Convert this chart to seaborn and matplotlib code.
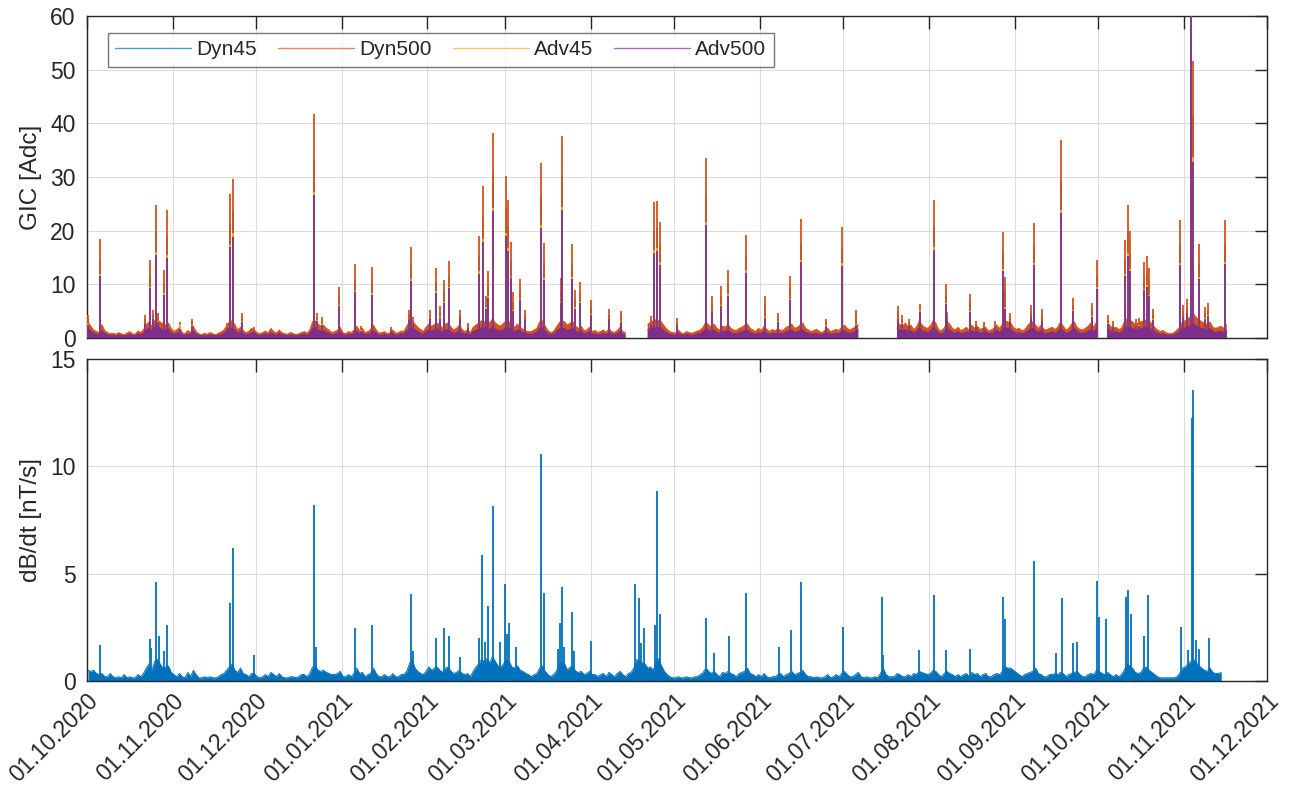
import numpy as np
import pandas as pd
import matplotlib
matplotlib.use("Agg")
import matplotlib.pyplot as plt
import matplotlib.dates as mdates
from matplotlib.lines import Line2D
import seaborn as sns

nan = np.nan
START = pd.Timestamp("2020-10-01")

# ---------------------------------------------------------------------------
# Daily background level of the GIC series (index = days since START),
# nan where the recording has gaps.
DYN500_BG = [
    3.0, 2.2, 1.5, 1.2, 1.0, 2.5, 1.4, 1.0, 0.8, 0.9,
    0.7, 1.0, 0.8, 0.6, 0.9, 1.2, 0.8, 0.7, 1.3, 1.0,
    1.5, 2.5, 3.0, 2.2, 3.2, 3.4, 3.0, 2.6, 2.4, 2.8,
    1.8, 1.2, 1.5, 2.0, 1.0, 0.8, 1.4, 1.0, 2.2, 1.2,
    0.8, 0.6, 0.9, 0.7, 1.0, 0.8, 0.6, 0.9, 1.1, 1.5,
    2.2, 3.0, 3.2, 2.5, 1.5, 2.0, 1.4, 1.0, 1.2, 1.8,
    1.5, 1.0, 0.8, 1.0, 1.3, 0.9, 1.8, 1.2, 0.9, 1.5,
    1.0, 0.8, 0.7, 1.0, 0.9, 0.6, 0.8, 1.0, 1.2, 0.9,
    1.4, 3.0, 3.2, 2.6, 2.2, 2.4, 1.8, 1.5, 1.0, 1.2,
    1.4, 2.0, 1.0, 0.8, 1.2, 1.0, 1.5, 2.2, 1.4, 1.8,
    1.0, 1.2, 1.6, 2.4, 1.5, 0.9, 1.0, 1.2, 0.8, 1.0,
    1.5, 0.9, 1.0, 1.3, 1.2, 2.2, 3.0, 3.2, 2.6, 2.0,
    1.6, 1.2, 2.0, 2.6, 2.2, 2.5, 2.8, 2.4, 1.8, 2.6,
    2.8, 2.0, 1.5, 1.8, 2.4, 1.6, 1.2, 1.5, 1.0, 2.0,
    2.4, 2.8, 3.2, 3.0, 3.4, 2.8, 3.6, 2.8, 2.4, 2.2,
    2.8, 3.2, 3.0, 2.4, 2.0, 2.6, 2.0, 1.6, 1.3, 1.2,
    1.2, 1.5, 1.8, 3.0, 3.2, 2.2, 1.4, 1.0, 1.2, 2.0,
    2.8, 3.2, 3.0, 2.4, 2.8, 3.0, 2.2, 1.8, 2.2, 1.4,
    1.5, 2.0, 1.2, 1.4, 1.0, 1.2, 1.5, 1.0, 1.8, 1.2,
    1.0, 1.4, 2.0, 1.2, 1.0, nan, nan, nan, nan, nan,
    nan, nan, 2.5, 3.0, 3.2, 3.4, 3.2, 3.0, 2.2, 1.6,
    1.2, 1.0, 0.9, 1.5, 1.0, 0.8, 1.2, 1.0, 0.9, 1.1,
    1.3, 1.5, 2.0, 3.0, 2.4, 2.0, 2.6, 1.8, 1.5, 2.2,
    2.0, 2.5, 1.8, 1.5, 1.4, 1.8, 2.0, 2.4, 2.6, 1.8,
    1.5, 1.2, 1.8, 1.4, 2.2, 1.6, 1.2, 1.6, 1.3, 1.8,
    1.4, 1.5, 2.0, 2.2, 2.6, 1.8, 2.0, 2.4, 2.8, 1.8,
    1.5, 1.2, 1.4, 1.6, 1.2, 1.0, 1.5, 1.8, 1.2, 1.4,
    1.6, 1.4, 2.0, 2.4, 1.8, 1.5, 1.8, 2.0, 2.5, nan,
    nan, nan, nan, nan, nan, nan, nan, nan, nan, nan,
    nan, nan, 3.0, 2.5, 2.2, 2.8, 2.0, 2.4, 1.6, 2.0,
    3.2, 2.4, 2.0, 1.8, 2.2, 3.2, 2.8, 1.5, 1.4, 1.8,
    3.0, 2.6, 1.8, 1.5, 2.0, 1.4, 1.6, 2.0, 1.5, 2.4,
    1.8, 2.2, 1.6, 1.8, 2.0, 1.3, 1.5, 1.8, 2.4, 1.8,
    2.5, 3.2, 3.0, 2.8, 2.0, 1.6, 1.8, 1.4, 1.5, 2.2,
    2.8, 3.0, 2.4, 1.8, 2.4, 1.6, 1.5, 1.8, 2.0, 1.6,
    2.0, 3.0, 2.2, 1.5, 1.8, 2.6, 3.0, 2.0, 1.6, 1.5,
    1.8, 2.2, 2.8, 2.0, 3.0, nan, nan, nan, 3.0, 2.2,
    1.8, 2.0, 1.6, 1.8, 3.0, 3.6, 3.4, 3.0, 2.5, 2.8,
    3.0, 3.2, 3.4, 3.2, 2.6, 2.0, 1.5, 1.2, 1.4, 1.0,
    0.9, 0.8, 1.0, 1.5, 2.0, 3.0, 3.2, 3.6, 4.0, 4.5,
    3.8, 3.4, 3.0, 2.8, 2.5, 3.0, 2.0, 1.8, 2.0, 2.2,
    1.8, 2.5,
]
ADV500_BG = [
    1.8, 1.3, 0.9, 0.7, 0.6, 1.4, 0.8, 0.6, 0.5, 0.5,
    0.4, 0.6, 0.5, 0.4, 0.5, 0.7, 0.5, 0.4, 0.8, 0.6,
    0.9, 1.5, 1.8, 1.3, 1.9, 2.1, 1.8, 1.5, 1.4, 1.7,
    1.0, 0.7, 0.9, 1.2, 0.6, 0.5, 0.8, 0.6, 1.3, 0.7,
    0.5, 0.4, 0.5, 0.4, 0.6, 0.5, 0.4, 0.5, 0.6, 0.9,
    1.3, 1.8, 1.9, 1.5, 0.9, 1.2, 0.8, 0.6, 0.7, 1.0,
    0.9, 0.6, 0.5, 0.6, 0.8, 0.5, 1.0, 0.7, 0.5, 0.9,
    0.6, 0.5, 0.4, 0.6, 0.5, 0.4, 0.5, 0.6, 0.7, 0.5,
    0.8, 1.8, 1.9, 1.5, 1.3, 1.4, 1.0, 0.9, 0.6, 0.7,
    0.8, 1.2, 0.6, 0.5, 0.7, 0.6, 0.9, 1.3, 0.8, 1.0,
    0.6, 0.7, 0.9, 1.4, 0.9, 0.5, 0.6, 0.7, 0.5, 0.6,
    0.9, 0.5, 0.6, 0.8, 0.7, 1.3, 1.8, 1.9, 1.5, 1.2,
    0.9, 0.7, 1.2, 1.5, 1.3, 1.5, 1.7, 1.4, 1.0, 1.5,
    1.6, 1.2, 0.9, 1.0, 1.4, 0.9, 0.7, 0.9, 0.6, 1.2,
    1.4, 1.6, 1.9, 1.8, 2.0, 1.6, 2.1, 1.6, 1.4, 1.3,
    1.6, 1.9, 1.8, 1.4, 1.2, 1.5, 1.2, 1.0, 0.8, 0.7,
    0.7, 0.9, 1.0, 1.8, 1.9, 1.3, 0.8, 0.6, 0.7, 1.2,
    1.7, 1.9, 1.8, 1.4, 1.6, 1.8, 1.3, 1.0, 1.3, 0.8,
    0.9, 1.2, 0.7, 0.8, 0.6, 0.7, 0.9, 0.6, 1.0, 0.7,
    0.6, 0.8, 1.2, 0.7, 0.6, nan, nan, nan, nan, nan,
    nan, nan, 1.5, 1.8, 1.9, 2.0, 1.9, 1.8, 1.3, 0.9,
    0.7, 0.6, 0.5, 0.9, 0.6, 0.5, 0.7, 0.6, 0.5, 0.6,
    0.8, 0.9, 1.2, 1.8, 1.4, 1.2, 1.5, 1.0, 0.9, 1.3,
    1.2, 1.5, 1.0, 0.9, 0.8, 1.0, 1.2, 1.4, 1.5, 1.0,
    0.9, 0.7, 1.0, 0.8, 1.3, 0.9, 0.7, 0.9, 0.8, 1.0,
    0.8, 0.9, 1.2, 1.3, 1.5, 1.0, 1.2, 1.4, 1.6, 1.0,
    0.9, 0.7, 0.8, 0.9, 0.7, 0.6, 0.9, 1.0, 0.7, 0.8,
    0.9, 0.8, 1.2, 1.4, 1.0, 0.9, 1.0, 1.2, 1.5, nan,
    nan, nan, nan, nan, nan, nan, nan, nan, nan, nan,
    nan, nan, 1.8, 1.5, 1.3, 1.6, 1.2, 1.4, 0.9, 1.2,
    1.9, 1.4, 1.2, 1.0, 1.3, 1.9, 1.6, 0.9, 0.8, 1.0,
    1.8, 1.5, 1.0, 0.9, 1.2, 0.8, 0.9, 1.2, 0.9, 1.4,
    1.0, 1.3, 0.9, 1.0, 1.2, 0.8, 0.9, 1.0, 1.4, 1.0,
    1.5, 1.9, 1.8, 1.6, 1.2, 0.9, 1.0, 0.8, 0.9, 1.3,
    1.6, 1.8, 1.4, 1.0, 1.4, 0.9, 0.9, 1.0, 1.2, 0.9,
    1.2, 1.8, 1.3, 0.9, 1.0, 1.5, 1.8, 1.2, 0.9, 0.9,
    1.0, 1.3, 1.6, 1.2, 1.8, nan, nan, nan, 1.8, 1.3,
    1.0, 1.2, 0.9, 1.0, 1.8, 2.1, 2.0, 1.8, 1.5, 1.6,
    1.8, 1.9, 2.0, 1.9, 1.5, 1.2, 0.9, 0.7, 0.8, 0.6,
    0.5, 0.5, 0.6, 0.9, 1.2, 1.8, 1.9, 2.1, 2.4, 2.7,
    2.2, 2.0, 1.8, 1.6, 1.5, 1.8, 1.2, 1.0, 1.2, 1.3,
    1.0, 1.5,
]
# weekly background of the 45 series (days 0, 7, 14, ...)
WEEK_STEP = 7
DYN45_BG = [
    0.35, 0.30, 0.30, 0.40, 0.35, 0.30, 0.30, 0.40, 0.35, 0.30,
    0.30, 0.30, 0.40, 0.35, 0.30, 0.35, 0.40, 0.45, 0.40, 0.45,
    0.50, 0.50, 0.35, 0.35, 0.45, 0.40, 0.30, 0.30, nan, 0.50,
    0.30, 0.35, 0.40, 0.40, 0.35, 0.35, 0.40, 0.35, 0.35, 0.40,
    nan, nan, 0.45, 0.45, 0.40, 0.40, 0.40, 0.45, 0.50, 0.45,
    0.45, 0.40, nan, 0.45, 0.50, 0.45, 0.30, 0.55, 0.45,
]
ADV45_BG = [
    0.30, 0.25, 0.25, 0.35, 0.30, 0.25, 0.25, 0.35, 0.30, 0.25,
    0.25, 0.25, 0.35, 0.30, 0.25, 0.30, 0.35, 0.40, 0.35, 0.40,
    0.45, 0.45, 0.30, 0.30, 0.40, 0.35, 0.25, 0.25, nan, 0.45,
    0.25, 0.30, 0.35, 0.35, 0.30, 0.30, 0.35, 0.30, 0.30, 0.35,
    nan, nan, 0.40, 0.40, 0.35, 0.35, 0.35, 0.40, 0.45, 0.40,
    0.40, 0.35, nan, 0.40, 0.45, 0.40, 0.25, 0.50, 0.40,
]

# GIC storm peaks: time in days since START and peak value of each series
GIC_PEAK_DAY = [
    0.3, 4.8, 21.0, 22.8, 23.8, 25.0, 25.8, 27.8, 28.9, 33.7,
    37.9, 50.7, 51.9, 52.8, 55.9, 60.4, 81.9, 83.0, 84.8, 91.0,
    97.0, 99.0, 102.9, 110.0, 116.4, 116.9, 117.8, 123.8, 125.9, 127.7,
    129.0, 130.8, 134.9, 137.7, 141.6, 142.9, 144.0, 144.9, 146.8, 151.2,
    151.9, 153.0, 153.9, 156.3, 158.1, 163.8, 164.9, 171.1, 171.7, 175.0,
    176.2, 178.0, 181.9, 188.4, 192.7, 203.8, 204.8, 206.0, 207.1, 213.1,
    223.4, 225.8, 229.1, 231.4, 237.8, 244.7, 249.7, 254.0, 257.9, 267.0,
    272.7, 277.8, 292.8, 294.4, 296.8, 300.6, 305.7, 310.0, 310.6, 318.9,
    321.1, 323.7, 328.0, 330.9, 331.6, 333.3, 340.9, 342.0, 344.9, 351.7,
    355.9, 362.8, 364.8, 368.6, 370.6, 374.8, 375.9, 376.7, 378.8, 380.0,
    381.8, 382.8, 383.6, 384.8, 394.8, 395.6, 397.0, 398.6, 399.3, 401.6,
    403.8, 404.9, 410.9,
]
DYN500_PEAK = [
    4.3, 18.4, 4.3, 14.6, 5.2, 24.8, 4.7, 12.7, 23.9, 2.9,
    3.6, 2.8, 26.8, 29.7, 4.7, 2.0, 41.8, 4.7, 3.9, 9.5,
    13.8, 2.2, 13.3, 2.0, 5.2, 16.9, 4.0, 5.2, 13.0, 6.0,
    10.8, 14.3, 5.2, 2.8, 19.0, 28.3, 7.8, 12.4, 38.2, 30.2,
    25.8, 17.9, 8.5, 11.0, 5.2, 32.7, 17.7, 11.2, 37.7, 17.5,
    9.0, 10.4, 7.1, 5.4, 5.0, 4.1, 25.3, 25.6, 21.6, 3.8,
    33.5, 7.9, 9.7, 12.6, 19.2, 7.9, 4.7, 11.6, 22.2, 3.6,
    20.6, 5.2, 6.0, 4.3, 3.5, 6.4, 25.7, 10.1, 4.9, 8.2,
    3.2, 2.9, 3.1, 19.8, 11.3, 4.6, 6.1, 21.4, 5.4, 36.9,
    7.5, 6.5, 14.6, 4.2, 3.2, 18.3, 24.8, 19.9, 3.5, 3.7,
    14.2, 15.2, 13.0, 5.5, 22.0, 6.2, 7.2, 98.0, 51.6, 17.5,
    5.8, 6.5, 22.0,
]
DYN45_PEAK = [
    3.5, 14.8, 3.5, 11.7, 4.2, 19.8, 3.8, 10.2, 19.1, 2.3,
    2.9, 2.2, 21.4, 23.8, 3.8, 1.6, 33.4, 3.8, 3.1, 7.6,
    11.0, 1.8, 10.6, 1.6, 4.2, 13.5, 3.2, 4.2, 10.4, 4.8,
    8.6, 11.4, 4.2, 2.2, 15.2, 22.6, 6.2, 9.9, 30.6, 24.2,
    20.6, 14.3, 6.8, 8.8, 4.2, 26.2, 14.2, 9.0, 30.2, 14.0,
    7.2, 8.3, 5.7, 4.3, 4.0, 3.3, 20.2, 20.5, 17.3, 3.0,
    26.8, 6.3, 7.8, 10.1, 15.4, 6.3, 3.8, 9.3, 17.8, 2.9,
    16.5, 4.2, 4.8, 3.4, 2.8, 5.1, 20.6, 8.1, 3.9, 6.6,
    2.6, 2.3, 2.5, 15.8, 9.0, 3.7, 4.9, 17.1, 4.3, 29.5,
    6.0, 5.2, 11.7, 3.4, 2.6, 14.6, 19.8, 15.9, 2.8, 3.0,
    11.4, 12.2, 10.4, 4.4, 17.6, 5.0, 5.8, 78.0, 41.3, 14.0,
    4.6, 5.2, 17.6,
]
ADV500_PEAK = [
    2.5, 11.5, 2.6, 9.3, 3.5, 15.5, 3.0, 8.1, 14.9, 1.6,
    2.3, 1.8, 16.9, 18.9, 3.0, 1.3, 26.6, 3.2, 2.5, 6.0,
    8.5, 1.4, 8.1, 1.3, 3.3, 10.7, 2.6, 3.8, 8.4, 3.8,
    6.5, 9.3, 3.5, 1.8, 12.0, 17.9, 5.5, 7.5, 23.7, 19.0,
    16.2, 11.1, 5.0, 7.1, 3.3, 20.5, 10.9, 6.5, 23.9, 11.0,
    5.5, 6.5, 4.3, 3.5, 3.0, 2.6, 15.9, 16.3, 13.7, 2.4,
    21.1, 5.0, 5.9, 7.9, 12.2, 3.8, 3.0, 7.1, 14.1, 2.3,
    13.5, 2.5, 3.5, 2.7, 2.2, 4.9, 16.4, 6.4, 3.1, 4.9,
    2.0, 1.8, 2.0, 12.5, 5.5, 2.9, 3.9, 13.6, 3.1, 23.3,
    5.0, 4.0, 9.2, 2.7, 2.0, 11.6, 15.3, 12.4, 2.2, 2.3,
    8.9, 9.6, 7.9, 3.4, 13.6, 3.9, 4.6, 62.0, 32.8, 11.0,
    3.6, 4.1, 13.8,
]
ADV45_PEAK = [
    2.6, 11.9, 2.7, 9.6, 3.6, 16.0, 3.1, 8.4, 15.4, 2.6,
    2.4, 1.9, 17.4, 19.5, 3.1, 1.4, 27.2, 3.3, 2.6, 6.2,
    8.8, 1.5, 8.4, 1.4, 3.4, 11.0, 2.7, 3.9, 8.7, 3.9,
    6.7, 9.6, 3.6, 1.9, 12.4, 18.4, 5.7, 7.8, 24.3, 19.5,
    16.7, 11.4, 5.2, 7.3, 3.4, 21.1, 11.2, 6.7, 24.5, 11.3,
    5.7, 6.7, 4.4, 3.6, 3.1, 2.7, 16.4, 16.8, 14.1, 2.5,
    21.7, 5.2, 6.1, 8.2, 12.6, 4.0, 3.1, 7.3, 14.5, 2.4,
    13.9, 2.6, 3.6, 2.8, 2.3, 5.0, 16.9, 6.6, 3.2, 5.0,
    2.1, 1.9, 2.1, 12.9, 5.7, 3.0, 4.0, 14.0, 3.2, 23.9,
    5.2, 4.1, 9.5, 2.8, 2.1, 11.9, 15.8, 12.8, 2.3, 2.4,
    9.2, 9.9, 8.1, 3.5, 14.0, 4.0, 4.7, 63.5, 33.8, 11.3,
    3.7, 4.2, 14.2,
]

# dB/dt: daily background level and storm peaks
DBDT_BG = [
    0.5, 0.45, 0.5, 0.35, 0.3, 0.35, 0.2, 0.2, 0.35, 0.2,
    0.15, 0.2, 0.15, 0.3, 0.15, 0.2, 0.15, 0.15, 0.3, 0.2,
    0.35, 0.6, 0.8, 0.5, 0.9, 1.0, 0.8, 0.6, 0.65, 0.7,
    0.4, 0.3, 0.2, 0.35, 0.2, 0.15, 0.4, 0.2, 0.5, 0.3,
    0.15, 0.15, 0.2, 0.15, 0.2, 0.15, 0.15, 0.2, 0.3, 0.35,
    0.5, 0.65, 0.8, 0.5, 0.4, 0.6, 0.35, 0.3, 0.2, 0.35,
    0.35, 0.2, 0.15, 0.2, 0.3, 0.2, 0.4, 0.3, 0.2, 0.35,
    0.2, 0.15, 0.15, 0.2, 0.2, 0.15, 0.2, 0.3, 0.3, 0.2,
    0.35, 0.65, 0.7, 0.5, 0.45, 0.5, 0.4, 0.35, 0.3, 0.3,
    0.35, 0.45, 0.2, 0.2, 0.3, 0.2, 0.35, 0.6, 0.35, 0.4,
    0.2, 0.3, 0.35, 0.6, 0.35, 0.2, 0.2, 0.3, 0.2, 0.2,
    0.35, 0.2, 0.2, 0.3, 0.3, 0.45, 0.8, 1.0, 0.6, 0.45,
    0.35, 0.3, 0.45, 0.65, 0.5, 0.6, 0.65, 0.5, 0.4, 0.6,
    0.65, 0.45, 0.35, 0.4, 0.5, 0.35, 0.3, 0.35, 0.2, 0.45,
    0.65, 0.8, 1.0, 0.9, 1.05, 0.85, 1.15, 0.9, 0.7, 0.65,
    0.8, 1.0, 0.9, 0.65, 0.6, 0.7, 0.5, 0.45, 0.35, 0.3,
    0.2, 0.3, 0.35, 0.6, 0.7, 0.45, 0.3, 0.2, 0.3, 0.45,
    0.7, 0.9, 0.8, 0.5, 0.65, 0.7, 0.45, 0.4, 0.45, 0.3,
    0.35, 0.45, 0.3, 0.3, 0.2, 0.3, 0.35, 0.2, 0.4, 0.3,
    0.2, 0.35, 0.45, 0.3, 0.2, 0.35, 0.4, 0.6, 1.0, 0.9,
    0.85, 0.8, 0.6, 0.65, 0.5, 0.85, 1.05, 0.7, 0.45, 0.3,
    0.2, 0.15, 0.15, 0.2, 0.15, 0.15, 0.2, 0.15, 0.15, 0.2,
    0.2, 0.3, 0.4, 0.6, 0.45, 0.35, 0.45, 0.3, 0.2, 0.4,
    0.35, 0.45, 0.35, 0.3, 0.2, 0.35, 0.4, 0.45, 0.6, 0.35,
    0.3, 0.2, 0.3, 0.2, 0.35, 0.2, 0.15, 0.2, 0.2, 0.3,
    0.35, 0.2, 0.3, 0.35, 0.45, 0.3, 0.35, 0.4, 0.5, 0.3,
    0.2, 0.2, 0.15, 0.2, 0.15, 0.15, 0.2, 0.3, 0.15, 0.2,
    0.3, 0.2, 0.35, 0.45, 0.3, 0.2, 0.2, 0.3, 0.4, 0.2,
    0.15, 0.2, 0.15, 0.15, 0.2, 0.15, 0.35, 0.6, 0.3, 0.2,
    0.2, 0.2, 0.35, 0.3, 0.2, 0.2, 0.3, 0.2, 0.35, 0.3,
    0.45, 0.4, 0.35, 0.3, 0.35, 0.5, 0.45, 0.3, 0.2, 0.35,
    0.45, 0.35, 0.3, 0.2, 0.3, 0.2, 0.3, 0.35, 0.2, 0.4,
    0.3, 0.35, 0.2, 0.3, 0.35, 0.2, 0.2, 0.3, 0.35, 0.3,
    0.45, 0.65, 0.6, 0.6, 0.5, 0.4, 0.3, 0.2, 0.3, 0.35,
    0.4, 0.45, 0.6, 0.35, 0.3, 0.2, 0.2, 0.3, 0.3, 0.35,
    0.3, 0.4, 0.35, 0.2, 0.3, 0.35, 0.4, 0.45, 0.3, 0.2,
    0.2, 0.3, 0.35, 0.3, 0.5, 0.45, 0.35, 0.3, 0.4, 0.3,
    0.2, 0.3, 0.2, 0.3, 0.5, 0.8, 0.7, 0.6, 0.4, 0.35,
    0.4, 0.6, 0.65, 0.5, 0.4, 0.3, 0.2, 0.15, 0.15, 0.15,
    0.15, 0.15, 0.15, 0.2, 0.35, 0.6, 0.65, 0.8, 0.9, 1.0,
    0.85, 0.7, 0.6, 0.5, 0.45, 0.6, 0.4, 0.35, 0.35, 0.4,
]
DBDT_PEAK_DAY = [
    4.8, 22.8, 23.3, 25.0, 26.0, 27.8, 28.9, 51.9, 52.8, 60.4,
    81.9, 82.6, 97.0, 102.9, 116.9, 117.6, 125.9, 129.0, 130.8, 134.9,
    141.6, 142.8, 143.8, 145.0, 146.8, 149.0, 151.1, 151.8, 152.4, 155.0,
    163.8, 164.9, 170.0, 171.0, 171.7, 172.4, 175.0, 176.0, 181.9, 198.0,
    199.3, 200.0, 201.0, 205.0, 206.0, 207.0, 223.6, 226.4, 232.0, 238.0,
    250.0, 254.3, 258.0, 273.0, 286.9, 287.4, 300.3, 305.9, 310.0, 319.0,
    330.9, 331.3, 342.1, 349.9, 352.1, 356.1, 357.3, 364.8, 365.3, 368.0,
    375.0, 375.9, 376.9, 381.8, 383.0, 395.1, 397.4, 398.9, 399.45, 400.4,
    401.6, 405.0,
]
DBDT_PEAK = [
    1.68, 1.94, 1.52, 4.61, 2.1, 1.4, 2.59, 3.62, 6.18, 1.2,
    8.2, 1.6, 2.47, 2.6, 4.05, 1.4, 2.0, 2.45, 2.1, 1.1,
    2.0, 5.87, 1.8, 3.5, 8.15, 1.8, 4.5, 2.2, 2.7, 1.6,
    10.57, 4.08, 1.5, 2.7, 4.36, 1.6, 3.2, 1.4, 1.85, 4.5,
    3.88, 1.75, 2.45, 2.6, 8.85, 3.1, 2.95, 1.3, 2.1, 4.08,
    1.6, 2.36, 4.63, 2.5, 3.9, 1.2, 1.45, 4.0, 1.45, 1.5,
    3.92, 2.9, 5.57, 1.3, 3.88, 1.75, 1.8, 4.67, 3.0, 2.87,
    3.9, 4.24, 3.1, 2.1, 4.03, 2.5, 1.45, 12.23, 13.54, 1.9,
    1.5, 2.0,
]

SERIES_NAMES = ["Dyn45", "Dyn500", "Adv45", "Adv500"]
SERIES_COLORS = ["#0072BD", "#D95319", "#EDB120", "#7E2F8E"]
MONTH_TICKS = pd.date_range("2020-10-01", "2021-12-01", freq="MS")


def to_time(days):
    return START + pd.to_timedelta(np.asarray(days, float), unit="D")


def background_frame(bg_days, bg_vals):
    """Background samples at midday, split into segments at recording gaps."""
    vals = np.asarray(bg_vals, float)
    df = pd.DataFrame({"time": to_time(np.asarray(bg_days, float) + 0.5), "value": vals})
    df["seg"] = np.cumsum(np.isnan(vals))
    return df


gic_bg = {
    "Dyn45": background_frame(np.arange(len(DYN45_BG)) * WEEK_STEP, DYN45_BG),
    "Dyn500": background_frame(np.arange(len(DYN500_BG)), DYN500_BG),
    "Adv45": background_frame(np.arange(len(ADV45_BG)) * WEEK_STEP, ADV45_BG),
    "Adv500": background_frame(np.arange(len(ADV500_BG)), ADV500_BG),
}
gic_peaks = {"Dyn45": DYN45_PEAK, "Dyn500": DYN500_PEAK,
             "Adv45": ADV45_PEAK, "Adv500": ADV500_PEAK}
dbdt_bg = background_frame(np.arange(len(DBDT_BG)), DBDT_BG)

# ---------------------------------------------------------------------------
sns.set_style("white")
plt.rcParams["font.family"] = ["Liberation Sans", "DejaVu Sans"]
plt.rcParams["axes.edgecolor"] = "#262626"
plt.rcParams["text.color"] = "#262626"

TICK_FS = 16.5
LABEL_FS = 17.5
LEGEND_FS = 15

fig = plt.figure(figsize=(12.92, 7.98), dpi=100)
ax1 = fig.add_axes([0.0671, 0.5764, 0.9135, 0.4035])
ax2 = fig.add_axes([0.0671, 0.1466, 0.9135, 0.4035])


def draw_trace(ax, bg, peak_days, peak_vals, color, z):
    ax.fill_between(bg["time"], 0, bg["value"], color=color, linewidth=0, zorder=z)
    sns.lineplot(data=bg.dropna(subset=["value"]), x="time", y="value", units="seg",
                 estimator=None, color=color, linewidth=0.7, ax=ax, zorder=z + 0.3,
                 legend=False)
    ax.vlines(to_time(peak_days), 0, peak_vals, colors=color, linewidth=1.3,
              zorder=z + 0.6)


for i, name in enumerate(SERIES_NAMES):
    draw_trace(ax1, gic_bg[name], GIC_PEAK_DAY, gic_peaks[name], SERIES_COLORS[i], 2 + i)
draw_trace(ax2, dbdt_bg, DBDT_PEAK_DAY, DBDT_PEAK, "#0072BD", 2)

for ax, ymax, ystep in [(ax1, 60, 10), (ax2, 15, 5)]:
    ax.set_xlim(MONTH_TICKS[0], MONTH_TICKS[-1])
    ax.set_ylim(0, ymax)
    ax.set_yticks(np.arange(0, ymax + 1, ystep))
    ax.set_xticks(MONTH_TICKS)
    ax.xaxis.set_major_formatter(mdates.DateFormatter("%d.%m.%Y"))
    ax.grid(True, color="#dcdcdc", linewidth=0.8)
    ax.set_axisbelow(True)
    ax.tick_params(direction="in", length=9, width=1.0, top=True, right=True,
                   labelsize=TICK_FS, colors="#262626")
    ax.tick_params(axis="y", pad=8)
    ax.tick_params(axis="x", pad=6)
    for sp in ax.spines.values():
        sp.set_linewidth(1.0)
        sp.set_color("#262626")
    ax.set_xlabel("")

ax1.tick_params(labelbottom=False)
ax1.set_ylabel("GIC [Adc]", fontsize=LABEL_FS, labelpad=6)
ax2.set_ylabel("dB/dt [nT/s]", fontsize=LABEL_FS, labelpad=6)
for lbl in ax2.get_xticklabels():
    lbl.set_rotation(45)
    lbl.set_ha("right")
    lbl.set_va("top")
    lbl.set_rotation_mode("anchor")

handles = [Line2D([0], [0], color=c, linewidth=1.0, alpha=0.7) for c in SERIES_COLORS]
leg = ax1.legend(handles, SERIES_NAMES, loc="upper left", bbox_to_anchor=(0.018, 0.947),
                 ncol=4, frameon=True, fancybox=False, fontsize=LEGEND_FS,
                 handlelength=3.65, handletextpad=0.25, columnspacing=1.0,
                 borderaxespad=0.0, borderpad=0.35)
leg.get_frame().set_edgecolor("#555555")
leg.get_frame().set_linewidth(1.0)

fig.savefig("out.png", dpi=100)
